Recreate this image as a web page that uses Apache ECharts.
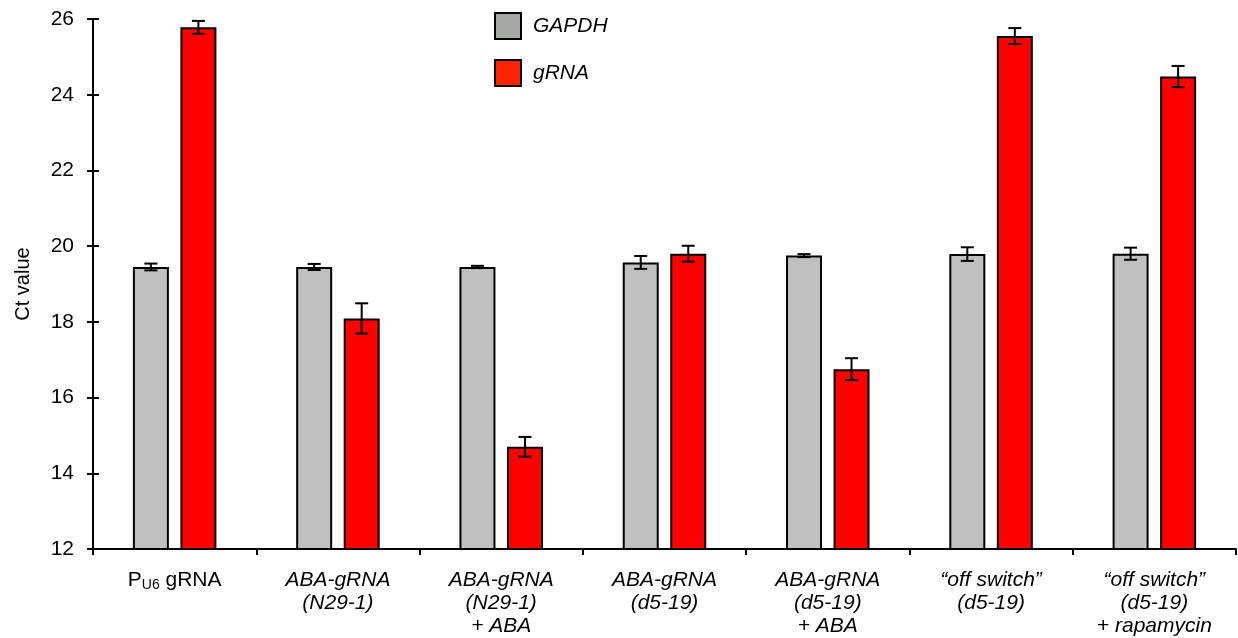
<!DOCTYPE html>
<html>
<head>
<meta charset="utf-8">
<script src="https://cdn.jsdelivr.net/npm/echarts@6/dist/echarts.min.js"></script>
<style>html,body{margin:0;padding:0;background:#fff;}#c{width:1238px;height:638px;}</style>
</head>
<body>
<div id="c"></div>
<script>
var categories = ['PU6 gRNA', 'ABA-gRNA\n(N29-1)', 'ABA-gRNA\n(N29-1)\n+ ABA', 'ABA-gRNA\n(d5-19)', 'ABA-gRNA\n(d5-19)\n+ ABA', '\u201coff switch\u201d\n(d5-19)', '\u201coff switch\u201d\n(d5-19)\n+ rapamycin'];
var gapdh = [19.45, 19.45, 19.45, 19.57, 19.75, 19.79, 19.80];
var gapdhErr = [0.09, 0.08, 0.03, 0.17, 0.04, 0.18, 0.16];
var grna = [25.78, 18.09, 14.70, 19.80, 16.75, 25.55, 24.48];
var grnaErr = [0.17, 0.40, 0.26, 0.21, 0.29, 0.21, 0.28];
var yTicks = [12, 14, 16, 18, 20, 22, 24, 26];

var FONT = '"Liberation Sans", Arial, sans-serif';
var BAR_W = 36, GAP = 0.32;
var OFF = (BAR_W + BAR_W * GAP) / 2;

function errSeries(vals, errs, sign) {
  return {
    type: 'custom',
    yAxisIndex: 0,
    z: 5,
    silent: true,
    data: vals.map(function (v, i) { return [i, v, errs[i]]; }),
    renderItem: function (params, api) {
      var i = api.value(0), v = api.value(1), e = api.value(2);
      var top = api.coord([i, v + e]);
      var bot = api.coord([i, v - e]);
      var x = top[0] + sign * OFF;
      var hw = 6.5;
      var st = { stroke: '#000', lineWidth: 2 };
      return {
        type: 'group',
        children: [
          { type: 'line', shape: { x1: x, y1: top[1], x2: x, y2: bot[1] }, style: st },
          { type: 'line', shape: { x1: x - hw, y1: top[1], x2: x + hw, y2: top[1] }, style: st },
          { type: 'line', shape: { x1: x - hw, y1: bot[1], x2: x + hw, y2: bot[1] }, style: st }
        ]
      };
    }
  };
}

var chart = echarts.init(document.getElementById('c'));
chart.setOption({
  animation: false,
  backgroundColor: '#fff',
  textStyle: { fontFamily: FONT },
  grid: { left: 93, right: 2, top: 19, bottom: 86, containLabel: false },
  legend: {
    orient: 'vertical',
    left: 494,
    top: 12,
    padding: 0,
    itemWidth: 26,
    itemHeight: 26,
    itemGap: 19,
    icon: 'rect',
    textStyle: { fontFamily: FONT, fontSize: 21, fontStyle: 'italic', color: '#000', padding: [0, 0, 0, 7] },
    data: [
      { name: 'GAPDH', itemStyle: { color: '#a6a8a6', borderColor: '#000', borderWidth: 2 } },
      { name: 'gRNA', itemStyle: { color: '#ff2200', borderColor: '#000', borderWidth: 2 } }
    ]
  },
  xAxis: {
    type: 'category',
    data: categories,
    axisLine: { lineStyle: { color: '#000', width: 2 } },
    axisTick: { show: true, length: 6, lineStyle: { color: '#000', width: 2 } },
    axisLabel: {
      interval: 0,
      margin: 20,
      color: '#000',
      fontFamily: FONT,
      fontSize: 21,
      fontStyle: 'italic',
      lineHeight: 23,
      formatter: function (v, idx) {
        if (idx === 0) return '{n|P}{s|U6}{n| gRNA}';
        return v;
      },
      rich: {
        n: { fontStyle: 'normal', fontSize: 21, fontFamily: FONT, color: '#000', lineHeight: 23 },
        s: { fontStyle: 'normal', fontSize: 14, fontFamily: FONT, color: '#000', verticalAlign: 'bottom', lineHeight: 12 }
      }
    }
  },
  yAxis: [
    {
      type: 'value',
      min: yTicks[0],
      max: yTicks[yTicks.length - 1],
      interval: 2,
      name: 'Ct value',
      nameLocation: 'middle',
      nameGap: 60,
      nameTextStyle: { fontFamily: FONT, fontSize: 20, color: '#000' },
      splitLine: { show: false },
      axisLine: { show: true, lineStyle: { color: '#000', width: 2 } },
      axisTick: { show: true, length: 6, lineStyle: { color: '#000', width: 2 } },
      axisLabel: { margin: 19, color: '#000', fontFamily: FONT, fontSize: 21 }
    },
    {
      type: 'value',
      position: 'left',
      min: yTicks[0],
      max: yTicks[yTicks.length - 1],
      interval: 2,
      splitLine: { show: false },
      axisLine: { show: false },
      axisTick: { show: true, inside: true, length: 6, lineStyle: { color: '#000', width: 2 } },
      axisLabel: { show: false }
    }
  ],
  series: [
    {
      name: 'GAPDH',
      type: 'bar',
      data: gapdh,
      barWidth: BAR_W,
      barGap: (GAP * 100) + '%',
      itemStyle: { color: '#c0c0c0', borderColor: '#000', borderWidth: 2 }
    },
    {
      name: 'gRNA',
      type: 'bar',
      data: grna,
      barWidth: BAR_W,
      barGap: (GAP * 100) + '%',
      itemStyle: { color: '#ff0000', borderColor: '#000', borderWidth: 2 }
    },
    errSeries(gapdh, gapdhErr, -1),
    errSeries(grna, grnaErr, 1)
  ]
});
</script>
</body>
</html>
